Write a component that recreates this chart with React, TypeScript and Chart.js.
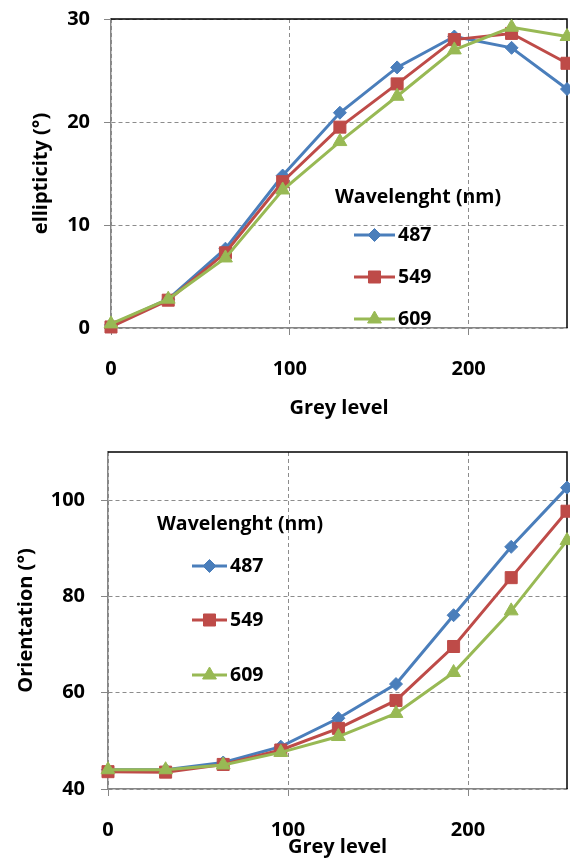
import React, { useEffect, useRef } from 'react';
import { Chart, registerables } from 'chart.js';
import { drawPoint } from 'chart.js/helpers';

Chart.register(...registerables);

// ---- data ----
const greyLevels = [0, 32, 64, 96, 128, 160, 192, 224, 255];
const wavelengths = ['487', '549', '609'];

const ellipticity487 = [0.3, 2.8, 7.7, 14.8, 20.9, 25.3, 28.3, 27.2, 23.2];
const ellipticity549 = [0.1, 2.7, 7.3, 14.2, 19.5, 23.7, 28.0, 28.6, 25.7];
const ellipticity609 = [0.4, 2.8, 6.8, 13.4, 18.1, 22.5, 27.0, 29.2, 28.3];

const orientation487 = [44.0, 44.0, 45.5, 48.8, 54.7, 61.8, 76.1, 90.3, 102.6];
const orientation549 = [43.6, 43.5, 45.1, 48.1, 52.6, 58.4, 69.6, 83.9, 97.7];
const orientation609 = [44.0, 44.0, 45.0, 47.6, 50.9, 55.7, 64.2, 77.0, 91.6];

const greyTicks = [0, 100, 200];
const ellipticityTicks = [0, 10, 20, 30];
const orientationTicks = [40, 60, 80, 100];

// ---- styling ----
const FONT = "'Open Sans', 'DejaVu Sans', sans-serif";
const seriesColors = ['#4A7EBB', '#BE4B48', '#98B954'];
const pointStyles = ['rectRot', 'rect', 'triangle'];
const pointRadii = [6.5, 8.5, 8];
const GRID = '#8c8c8c';
const AXIS = '#868686';

Chart.defaults.font.family = FONT;
Chart.defaults.color = '#000';

// Black top/right frame of the plot area
const framePlugin = {
  id: 'frame',
  beforeDatasetsDraw(chart: any) {
    const { ctx, chartArea: a } = chart;
    ctx.save();
    ctx.strokeStyle = '#000';
    ctx.lineWidth = 1.5;
    ctx.setLineDash([]);
    ctx.beginPath();
    ctx.moveTo(a.left, a.top);
    ctx.lineTo(a.right, a.top);
    ctx.lineTo(a.right, a.bottom);
    ctx.stroke();
    ctx.restore();
  },
};

// Series key drawn inside the plot: heading, then line + marker + label per series
const seriesKeyPlugin = {
  id: 'seriesKey',
  afterDatasetsDraw(chart: any, _args: any, opts: any) {
    const ctx = chart.ctx;
    ctx.save();
    ctx.font = `bold ${opts.fontSize}px ${FONT}`;
    ctx.textBaseline = 'middle';
    ctx.textAlign = 'left';
    ctx.fillStyle = '#000';
    ctx.fillText(opts.title, opts.titleX, opts.titleY);
    chart.data.datasets.forEach((ds: any, i: number) => {
      const y = opts.rowY[i];
      ctx.setLineDash([]);
      ctx.strokeStyle = ds.borderColor;
      ctx.lineWidth = 3;
      ctx.beginPath();
      ctx.moveTo(opts.lineX0, y);
      ctx.lineTo(opts.lineX1, y);
      ctx.stroke();
      ctx.fillStyle = ds.borderColor;
      ctx.lineWidth = 1;
      drawPoint(
        ctx,
        { pointStyle: ds.pointStyle, radius: ds.pointRadius, rotation: 0, borderWidth: 1 },
        (opts.lineX0 + opts.lineX1) / 2,
        y
      );
      ctx.fillStyle = '#000';
      ctx.fillText(ds.label, opts.textX, y);
    });
    ctx.restore();
  },
};

type Spec = {
  width: number;
  height: number;
  area: { left: number; right: number; top: number; bottom: number };
  series: number[][];
  yMin: number;
  yMax: number;
  yTicks: number[];
  yTitle: string;
  yTitlePad: number;
  yTickPad: number;
  xTitlePad: number;
  key: any;
};

const ellipticitySpec: Spec = {
  width: 570,
  height: 430,
  area: { left: 111, right: 567, top: 19, bottom: 328 },
  series: [ellipticity487, ellipticity549, ellipticity609],
  yMin: 0,
  yMax: 30,
  yTicks: ellipticityTicks,
  yTitle: 'ellipticity (°)',
  yTitlePad: 29,
  yTickPad: 14,
  xTitlePad: 10,
  key: {
    title: 'Wavelenght (nm)',
    fontSize: 19.5,
    titleX: 335,
    titleY: 197,
    lineX0: 354,
    lineX1: 395,
    textX: 398,
    rowY: [235, 277, 319],
  },
};

const orientationSpec: Spec = {
  width: 570,
  height: 433,
  area: { left: 108, right: 567, top: 22, bottom: 359 },
  series: [orientation487, orientation549, orientation609],
  yMin: 40,
  yMax: 110,
  yTicks: orientationTicks,
  yTitle: 'Orientation (°)',
  yTitlePad: 14,
  yTickPad: 16,
  xTitlePad: 4,
  key: {
    title: 'Wavelenght (nm)',
    fontSize: 19.5,
    titleX: 157,
    titleY: 94,
    lineX0: 192,
    lineX1: 227,
    textX: 230,
    rowY: [136, 190, 245],
  },
};

function buildConfig(spec: Spec): any {
  const { width, height, area } = spec;
  return {
    type: 'line',
    data: {
      datasets: spec.series.map((vals, i) => ({
        label: wavelengths[i],
        data: greyLevels.map((g, j) => ({ x: g, y: vals[j] })),
        borderColor: seriesColors[i],
        backgroundColor: seriesColors[i],
        pointBackgroundColor: seriesColors[i],
        pointBorderColor: seriesColors[i],
        borderWidth: 3,
        pointStyle: pointStyles[i],
        pointRadius: pointRadii[i],
        pointBorderWidth: 1,
        tension: 0,
        clip: false,
        order: 2 - i,
      })),
    },
    options: {
      animation: false,
      responsive: false,
      events: [],
      layout: {
        autoPadding: false,
        padding: { left: 0, right: width - area.right, top: area.top, bottom: 0 },
      },
      scales: {
        x: {
          type: 'linear',
          min: 0,
          max: 255,
          afterBuildTicks: (s: any) => {
            s.ticks = greyTicks.map((v) => ({ value: v }));
          },
          afterFit: (s: any) => {
            s.height = height - area.bottom;
          },
          ticks: { font: { size: 20, weight: 'bold' }, color: '#000', padding: 22, maxRotation: 0 },
          grid: { color: GRID, lineWidth: 1, tickLength: 7, tickColor: AXIS, tickBorderDash: [] },
          border: { color: AXIS, width: 1.5, dash: [4, 3] },
          title: {
            display: true,
            text: 'Grey level',
            font: { size: 20, weight: 'bold' },
            color: '#000',
            padding: { top: 0, bottom: spec.xTitlePad },
          },
        },
        y: {
          type: 'linear',
          min: spec.yMin,
          max: spec.yMax,
          afterBuildTicks: (s: any) => {
            s.ticks = spec.yTicks.map((v) => ({ value: v }));
          },
          afterFit: (s: any) => {
            s.width = area.left;
            // the plot box is fixed by the layout padding; labels may overhang it
            s.paddingTop = 0;
            s.paddingBottom = 0;
          },
          ticks: { font: { size: 20, weight: 'bold' }, color: '#000', padding: spec.yTickPad },
          grid: { color: GRID, lineWidth: 1, tickLength: 7, tickColor: AXIS, tickBorderDash: [] },
          border: { color: AXIS, width: 1.5, dash: [4, 3] },
          title: {
            display: true,
            text: spec.yTitle,
            font: { size: 20, weight: 'bold' },
            color: '#000',
            padding: { top: spec.yTitlePad, bottom: 0 },
          },
        },
      },
      plugins: {
        legend: { display: false },
        tooltip: { enabled: false },
        seriesKey: spec.key,
      },
    },
    plugins: [framePlugin, seriesKeyPlugin],
  };
}

function LineChart({ spec }: { spec: Spec }) {
  const ref = useRef<HTMLCanvasElement>(null);
  useEffect(() => {
    const chart = new Chart(ref.current as HTMLCanvasElement, buildConfig(spec));
    return () => chart.destroy();
  }, [spec]);
  return (
    <canvas
      ref={ref}
      width={spec.width}
      height={spec.height}
      style={{ display: 'block', width: spec.width, height: spec.height }}
    />
  );
}

export default function App() {
  return (
    <div style={{ position: 'absolute', left: 0, top: 0, width: 570, height: 863, background: '#fff' }}>
      <LineChart spec={ellipticitySpec} />
      <LineChart spec={orientationSpec} />
    </div>
  );
}
